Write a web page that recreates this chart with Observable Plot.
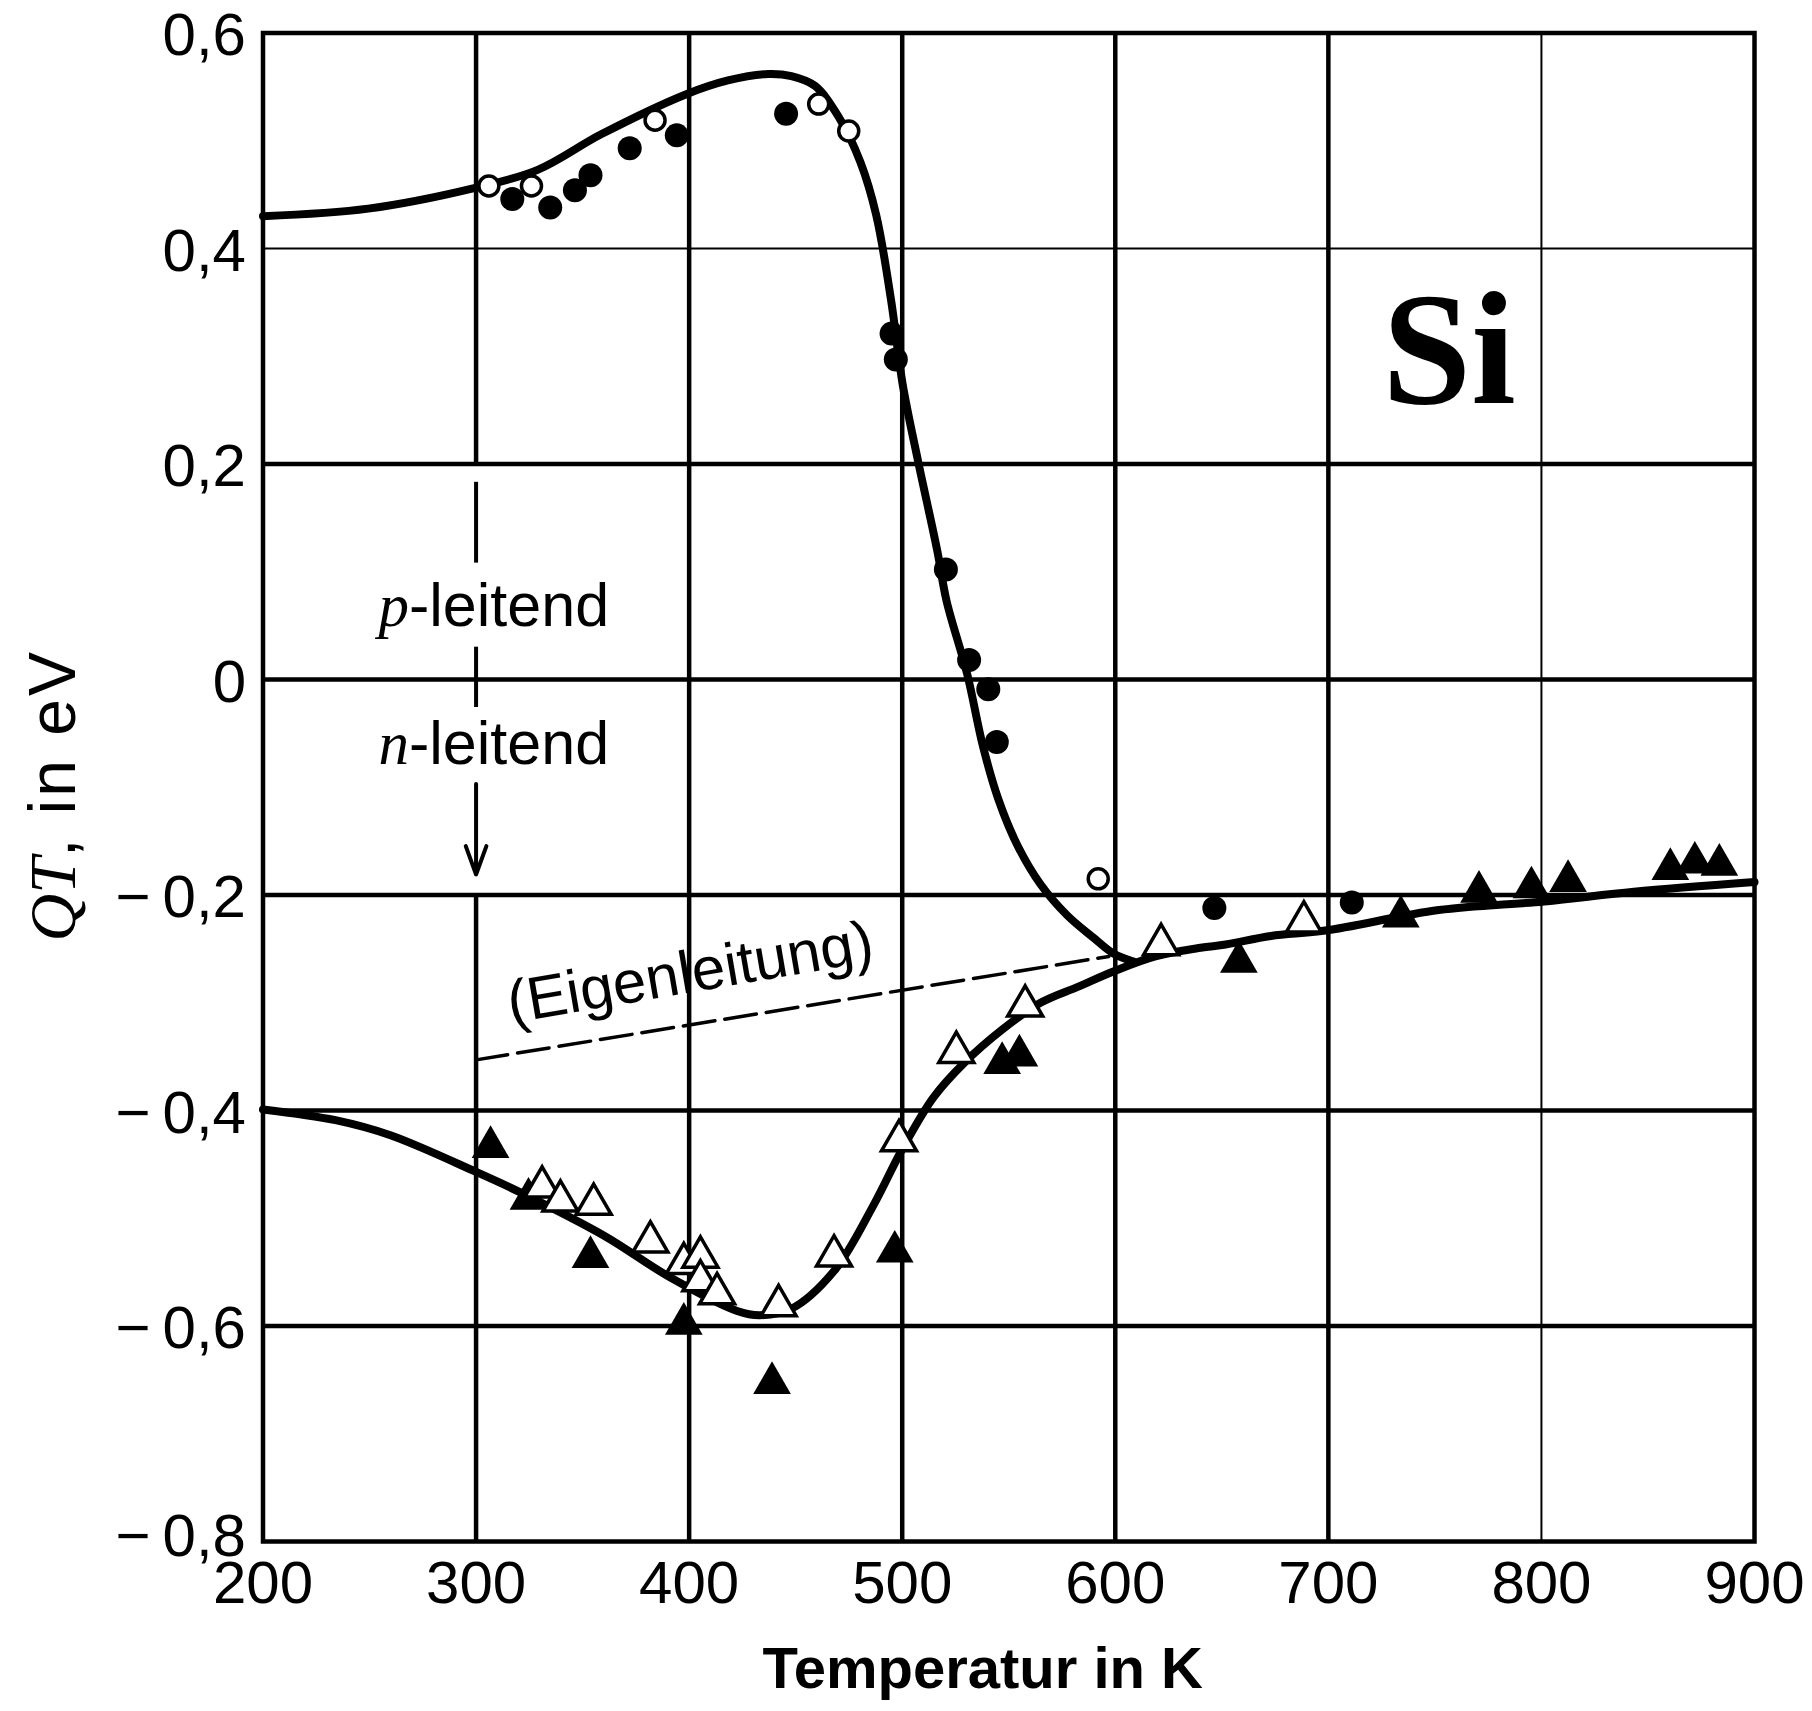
<!DOCTYPE html>
<html>
<head>
<meta charset="utf-8">
<script src="https://cdn.jsdelivr.net/npm/d3@7"></script>
<script src="https://cdn.jsdelivr.net/npm/@observablehq/plot@0.6"></script>
<style>
  body { margin: 0; background: #fff; }
</style>
</head>
<body>
<div id="chart"></div>
<script>
// ---- data (temperature in K, QT in eV) ----
const xTicks = [200, 300, 400, 500, 600, 700, 800, 900];
const yTicks = [0.6, 0.4, 0.2, 0, -0.2, -0.4, -0.6, -0.8];

// upper fitted curve (p-type sample)
const upperT = [200, 249.4, 299.1, 328.9, 358.7, 398.4, 418.2, 437.1, 448, 459, 469.9, 480.4, 487.8, 494.7, 500.2, 507.4, 516.5, 520.8, 530.5, 537.9, 545.1, 554.1, 564.9, 577.5, 590, 598.9, 608.9];
const upperV = [0.430, 0.437, 0.456, 0.473, 0.506, 0.543, 0.556, 0.562, 0.560, 0.551, 0.523, 0.480, 0.431, 0.353, 0.274, 0.203, 0.119, 0.073, 0.005, -0.062, -0.111, -0.154, -0.190, -0.219, -0.240, -0.254, -0.262];

// lower fitted curve (n-type sample)
const lowerT = [200, 234, 259.8, 300, 320.8, 359.9, 391.2, 422.5, 433, 448, 468, 486.5, 500, 514.6, 529, 546.9, 564.9, 582.7, 599.1, 618.8, 640, 651.8, 673, 698.6, 751.8, 801.3, 843.4, 900];
const lowerV = [-0.399, -0.409, -0.423, -0.457, -0.476, -0.516, -0.555, -0.586, -0.590, -0.584, -0.549, -0.488, -0.436, -0.388, -0.356, -0.325, -0.300, -0.285, -0.271, -0.257, -0.249, -0.246, -0.238, -0.233, -0.214, -0.206, -0.197, -0.188];

// intrinsic conduction (dashed)
const eigenT = [300, 597];
const eigenV = [-0.353, -0.257];

// measured points
const openCircleT = [306, 326, 384, 460.8, 474.9, 592];
const openCircleV = [0.458, 0.458, 0.519, 0.534, 0.509, -0.185];

const filledCircleT = [317, 334.8, 346.4, 353.7, 372.1, 394.2, 445.5, 495, 497, 520.5, 531.4, 540.4, 544.4, 646.5, 711];
const filledCircleV = [0.446, 0.438, 0.454, 0.468, 0.493, 0.505, 0.525, 0.321, 0.297, 0.102, 0.018, -0.009, -0.058, -0.212, -0.207];

const openTriangleT = [331, 339.6, 355.2, 381.8, 397.5, 405.3, 405.3, 413.1, 442, 468, 498.5, 525.4, 557.7, 621.5, 688.5];
const openTriangleV = [-0.471, -0.484, -0.487, -0.522, -0.542, -0.536, -0.558, -0.570, -0.581, -0.535, -0.428, -0.346, -0.303, -0.246, -0.225];

const filledTriangleT = [306.8, 324.6, 353.7, 397.5, 438.9, 496.5, 546.9, 555, 658, 734, 770.7, 795.3, 812.5, 860.5, 872, 883.5];
const filledTriangleV = [-0.434, -0.482, -0.536, -0.598, -0.653, -0.531, -0.356, -0.349, -0.262, -0.220, -0.197, -0.193, -0.187, -0.176, -0.170, -0.172];

// 300 K marker: grid line broken between these values, with short dashes inside
const breakT = 300, breakHigh = 0.2, breakLow = -0.2;
const markerTop = [0.183, 0.030];
const markerBottom = [0.108, -0.026];
const arrowTop = -0.097, arrowBottom = -0.181;

// annotations
const annotT = [254.2, 254.2];
const annotV = [0.050, -0.078];
const annotText = ["p-leitend", "n-leitend"];
const eigenLabel = {T: 402, v: -0.290, text: "(Eigenleitung)"};
const elementLabel = {T: 725.3, v: 0.257, text: "Si"};

// ---- tables ----
const zip = (T, V) => T.map((t, i) => ({T: t, v: V[i]}));
const upper = zip(upperT, upperV);
const lower = zip(lowerT, lowerV);
const eigen = zip(eigenT, eigenV);
const openC = zip(openCircleT, openCircleV);
const fillC = zip(filledCircleT, filledCircleV);
const openTr = zip(openTriangleT, openTriangleV);
const fillTr = zip(filledTriangleT, filledTriangleV);
const markers = markerTop.map((t, i) => ({T: breakT, y1: t, y2: markerBottom[i]}));
const brokenGrid = [
  {T: breakT, y1: yTicks[0], y2: breakHigh},
  {T: breakT, y1: breakLow, y2: yTicks[yTicks.length - 1]}
];
const annots = annotT.map((t, i) => ({T: t, v: annotV[i], text: annotText[i]}));

const fmtY = d => d === 0 ? "0" : (d < 0 ? "\u2212\u2009" : "") + Math.abs(d).toFixed(1).replace(".", ",");

const thinX = [800], thinY = [0.4];
const innerX = xTicks.slice(1, -1).filter(d => d !== breakT);
const innerY = yTicks.slice(1, -1);
const lastY = yTicks[yTicks.length - 1];

const chart = Plot.plot({
  width: 1812,
  height: 1711,
  marginLeft: 262.5,
  marginRight: 58,
  marginTop: 32.5,
  marginBottom: 170,
  style: {fontSize: "60px", fontFamily: "'Liberation Sans', Arial, sans-serif", color: "black", background: "white"},
  x: {domain: [200, 900]},
  y: {domain: [-0.8, 0.6]},
  marks: [
    Plot.ruleX(innerX.filter(d => !thinX.includes(d)), {stroke: "black", strokeWidth: 4.5}),
    Plot.ruleX(innerX.filter(d => thinX.includes(d)), {stroke: "black", strokeWidth: 2}),
    Plot.ruleX(brokenGrid, {x: "T", y1: "y1", y2: "y2", stroke: "black", strokeWidth: 4.5}),
    Plot.ruleY(innerY.filter(d => !thinY.includes(d)), {stroke: "black", strokeWidth: 4.5}),
    Plot.ruleY(innerY.filter(d => thinY.includes(d)), {stroke: "black", strokeWidth: 2}),
    Plot.frame({stroke: "black", strokeWidth: 4.5}),
    Plot.axisX(xTicks, {tickSize: 0, tickPadding: 19, tickFormat: d => String(d), label: null, fontSize: 60}),
    Plot.axisY(yTicks.filter(d => d !== lastY), {tickSize: 0, tickPadding: 17, tickFormat: fmtY, label: null, fontSize: 60, dy: 3}),
    Plot.axisY([lastY], {tickSize: 0, tickPadding: 17, tickFormat: fmtY, label: null, fontSize: 60, dy: -5}),
    // dashed intrinsic line
    Plot.line(eigen, {x: "T", y: "v", stroke: "black", strokeWidth: 3.5, strokeDasharray: "32,10"}),
    // 300 K marker
    Plot.ruleX(markers, {x: "T", y1: "y1", y2: "y2", stroke: "black", strokeWidth: 4}),
    Plot.arrow([{T: breakT, a: arrowTop, b: arrowBottom}], {x1: "T", x2: "T", y1: "a", y2: "b", stroke: "black", strokeWidth: 4, headLength: 12, headAngle: 40}),
    // curves
    Plot.line(upper, {x: "T", y: "v", curve: "catmull-rom", stroke: "black", strokeWidth: 8}),
    Plot.line(lower, {x: "T", y: "v", curve: "catmull-rom", stroke: "black", strokeWidth: 8}),
    // points
    Plot.dot(fillC, {x: "T", y: "v", r: 12, fill: "black"}),
    Plot.dot(openC, {x: "T", y: "v", r: 10, fill: "white", stroke: "black", strokeWidth: 3.5}),
    Plot.dot(fillTr, {x: "T", y: "v", symbol: "triangle", r: 14, fill: "black"}),
    Plot.dot(openTr, {x: "T", y: "v", symbol: "triangle", r: 13, fill: "white", stroke: "black", strokeWidth: 3.5}),
    // annotations
    Plot.text(annots, {x: "T", y: "v", text: "text", textAnchor: "start", lineAnchor: "bottom", fontSize: 61, letterSpacing: 3.5}),
    Plot.text([eigenLabel], {x: "T", y: "v", text: "text", rotate: -9.7, textAnchor: "middle", lineAnchor: "bottom", fontSize: 60, letterSpacing: 3}),
    Plot.text([elementLabel], {x: "T", y: "v", text: "text", textAnchor: "start", lineAnchor: "bottom", fontSize: 160, fontWeight: "bold", fontFamily: "'Liberation Serif', 'Times New Roman', serif"}),
    // axis titles
    Plot.text(["Temperatur in K"], {frameAnchor: "bottom", dx: -26, dy: 146, textAnchor: "middle", lineAnchor: "bottom", fontSize: 58, fontWeight: "bold", letterSpacing: 1.5}),
    Plot.text(["QT, in eV"], {frameAnchor: "left", dx: -209, dy: 8, rotate: -90, textAnchor: "middle", lineAnchor: "middle", fontSize: 66})
  ]
});

document.getElementById("chart").appendChild(chart);

// italic symbols inside a few labels
d3.select(chart).selectAll("text").each(function () {
  const t = this.textContent;
  const sel = d3.select(this);
  if (t === "p-leitend" || t === "n-leitend") {
    sel.text(null);
    sel.append("tspan").attr("font-family", "'Liberation Serif', serif").attr("font-style", "italic").text(t[0]);
    sel.append("tspan").text(t.slice(1));
  } else if (t === "QT, in eV") {
    sel.text(null);
    sel.append("tspan").attr("font-family", "'Liberation Serif', serif").attr("font-style", "italic").text("QT");
    sel.append("tspan").attr("letter-spacing", 3).text(", in eV");
  }
});
</script>
</body>
</html>
